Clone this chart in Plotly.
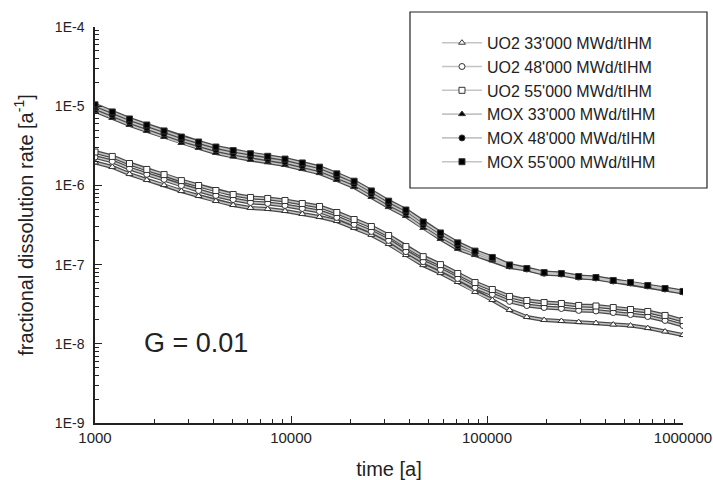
import plotly.graph_objects as go

# ---------------- data ----------------
time_a = [1000, 1225, 1500, 1838, 2251, 2758, 3378, 4138, 5069, 6210, 7607, 9319,
          11416, 13984, 17131, 20986, 25708, 31493, 38579, 47260, 57894, 70920,
          86878, 106427, 130374, 159710, 195646, 239669, 293598, 359662, 440592,
          539733, 661180, 809956, 1000000]

uo2_33 = [1.95e-6, 1.71e-6, 1.39e-6, 1.17e-6, 1.01e-6, 8.48e-7, 7.35e-7, 6.35e-7,
          5.65e-7, 5.19e-7, 5.04e-7, 4.75e-7, 4.36e-7, 3.99e-7, 3.55e-7, 2.90e-7,
          2.37e-7, 1.82e-7, 1.32e-7, 9.84e-8, 7.81e-8, 6.03e-8, 4.51e-8, 3.57e-8,
          2.67e-8, 2.18e-8, 2.00e-8, 1.94e-8, 1.88e-8, 1.83e-8, 1.75e-8, 1.70e-8,
          1.58e-8, 1.43e-8, 1.29e-8]
uo2_48 = [2.28e-6, 2.01e-6, 1.63e-6, 1.38e-6, 1.19e-6, 9.95e-7, 8.62e-7, 7.46e-7,
          6.63e-7, 6.09e-7, 5.92e-7, 5.58e-7, 5.11e-7, 4.69e-7, 3.94e-7, 3.21e-7,
          2.62e-7, 2.02e-7, 1.46e-7, 1.09e-7, 8.65e-8, 6.68e-8, 5.14e-8, 4.20e-8,
          3.43e-8, 3.04e-8, 2.87e-8, 2.79e-8, 2.64e-8, 2.60e-8, 2.48e-8, 2.34e-8,
          2.21e-8, 1.97e-8, 1.70e-8]
uo2_55 = [2.64e-6, 2.32e-6, 1.89e-6, 1.59e-6, 1.37e-6, 1.15e-6, 9.97e-7, 8.62e-7,
          7.67e-7, 7.04e-7, 6.84e-7, 6.45e-7, 5.91e-7, 5.42e-7, 4.55e-7, 3.71e-7,
          3.03e-7, 2.33e-7, 1.69e-7, 1.26e-7, 1.00e-7, 7.72e-8, 5.94e-8, 4.85e-8,
          3.96e-8, 3.52e-8, 3.32e-8, 3.23e-8, 3.05e-8, 3.00e-8, 2.87e-8, 2.71e-8,
          2.56e-8, 2.28e-8, 1.97e-8]
mox_33 = [8.71e-6, 7.10e-6, 5.79e-6, 4.87e-6, 4.09e-6, 3.43e-6, 2.97e-6, 2.57e-6,
          2.31e-6, 2.11e-6, 1.96e-6, 1.81e-6, 1.61e-6, 1.43e-6, 1.17e-6, 9.53e-7,
          7.15e-7, 5.32e-7, 4.11e-7, 2.90e-7, 2.11e-7, 1.58e-7, 1.32e-7, 1.13e-7,
          9.32e-8, 8.67e-8, 7.68e-8, 7.49e-8, 6.87e-8, 6.67e-8, 6.12e-8, 5.77e-8,
          5.29e-8, 4.85e-8, 4.44e-8]
mox_48 = [9.50e-6, 7.75e-6, 6.32e-6, 5.31e-6, 4.46e-6, 3.74e-6, 3.24e-6, 2.80e-6,
          2.52e-6, 2.30e-6, 2.14e-6, 1.97e-6, 1.76e-6, 1.56e-6, 1.28e-6, 1.04e-6,
          7.80e-7, 5.80e-7, 4.48e-7, 3.16e-7, 2.30e-7, 1.72e-7, 1.40e-7, 1.18e-7,
          9.60e-8, 8.80e-8, 7.80e-8, 7.60e-8, 6.97e-8, 6.77e-8, 6.21e-8, 5.86e-8,
          5.37e-8, 4.92e-8, 4.51e-8]
mox_55 = [1.04e-5, 8.46e-6, 6.90e-6, 5.79e-6, 4.87e-6, 4.08e-6, 3.53e-6, 3.05e-6,
          2.75e-6, 2.51e-6, 2.33e-6, 2.15e-6, 1.92e-6, 1.70e-6, 1.40e-6, 1.13e-6,
          8.51e-7, 6.33e-7, 4.89e-7, 3.45e-7, 2.51e-7, 1.88e-7, 1.48e-7, 1.23e-7,
          9.89e-8, 8.93e-8, 7.92e-8, 7.71e-8, 7.07e-8, 6.87e-8, 6.30e-8, 5.95e-8,
          5.45e-8, 4.99e-8, 4.58e-8]

series_names = ["UO2 33'000 MWd/tIHM", "UO2 48'000 MWd/tIHM", "UO2 55'000 MWd/tIHM",
                "MOX 33'000 MWd/tIHM", "MOX 48'000 MWd/tIHM", "MOX 55'000 MWd/tIHM"]
series_values = [uo2_33, uo2_48, uo2_55, mox_33, mox_48, mox_55]
series_symbols = ["triangle-up", "circle", "square", "triangle-up", "circle", "square"]
series_fill = ["white", "white", "white", "black", "black", "black"]

x_major = [1000, 10000, 100000, 1000000]
x_labels = ["1000", "10000", "100000", "1000000"]
y_major = [1e-9, 1e-8, 1e-7, 1e-6, 1e-5, 1e-4]
y_labels = ["1E-9", "1E-8", "1E-7", "1E-6", "1E-5", "1E-4"]
minor_digits = [2, 3, 4, 5, 6, 7, 8, 9]
annotation_text = "G = 0.01"

# ---------------- figure ----------------
FONT = "Liberation Sans, Arial, Helvetica, sans-serif"
INK = "#222222"
fig = go.Figure()

# dark outer edge of the "double" lines
for vals in series_values:
    fig.add_trace(go.Scatter(x=time_a, y=vals, mode="lines", showlegend=False,
                             hoverinfo="skip",
                             line=dict(color="#4a4a4a", width=4)))

# light centre of the lines + markers (legend entries)
for name, vals, sym, fill in zip(series_names, series_values, series_symbols, series_fill):
    fig.add_trace(go.Scatter(
        x=time_a, y=vals, mode="lines+markers", name=name,
        line=dict(color="#c4c4c4", width=1.6),
        marker=dict(symbol=sym, size=6, color=fill,
                    line=dict(color="#333333", width=1))))

x_minor = [d * m for m in x_major[:-1] for d in minor_digits]
y_minor = [d * m for m in y_major[:-1] for d in minor_digits]

fig.update_xaxes(
    type="log", range=[3, 6], automargin=False,
    tickmode="array", tickvals=x_major, ticktext=x_labels,
    ticks="inside", ticklen=7, tickwidth=1, tickcolor=INK,
    showline=True, linecolor=INK, linewidth=1.5, mirror=False,
    showgrid=False, zeroline=False,
    tickfont=dict(family=FONT, size=15, color=INK),
    ticklabelstandoff=0,
    minor=dict(tickmode="array", tickvals=x_minor, ticks="inside", ticklen=4,
               tickwidth=1, tickcolor=INK, showgrid=False),
    title=dict(text="time [a]", font=dict(family=FONT, size=20, color=INK), standoff=18),
)
fig.update_yaxes(
    type="log", range=[-9, -4], automargin=False,
    tickmode="array", tickvals=y_major, ticktext=y_labels,
    ticks="inside", ticklen=7, tickwidth=1, tickcolor=INK,
    showline=True, linecolor=INK, linewidth=1.5, mirror=False,
    showgrid=False, zeroline=False,
    tickfont=dict(family=FONT, size=14, color=INK),
    ticklabelstandoff=6,
    minor=dict(tickmode="array", tickvals=y_minor, ticks="inside", ticklen=4,
               tickwidth=1, tickcolor=INK, showgrid=False),
    title=dict(text="fractional dissolution rate [a<sup>-1</sup>]",
               font=dict(family=FONT, size=20, color=INK), standoff=16),
)

# legend frame
fig.add_shape(type="rect", xref="paper", yref="paper",
              x0=0.5357, x1=1.0408, y0=0.5934, y1=1.0379,
              line=dict(color=INK, width=1.2), fillcolor="rgba(0,0,0,0)")

fig.add_annotation(text=annotation_text, xref="paper", yref="paper",
                   x=0.0799, y=0.202, xanchor="left", yanchor="middle",
                   showarrow=False, font=dict(family=FONT, size=27, color=INK))

fig.update_layout(
    width=713, height=480, autosize=False,
    margin=dict(l=95, r=30, t=27, b=57, autoexpand=False),
    paper_bgcolor="white", plot_bgcolor="white",
    legend=dict(x=0.5816, y=1.003, xanchor="left", yanchor="top",
                bgcolor="rgba(0,0,0,0)", borderwidth=0,
                font=dict(family=FONT, size=16, color=INK),
                itemwidth=40, tracegroupgap=0),
    showlegend=True,
)

fig.write_html("out.html")
